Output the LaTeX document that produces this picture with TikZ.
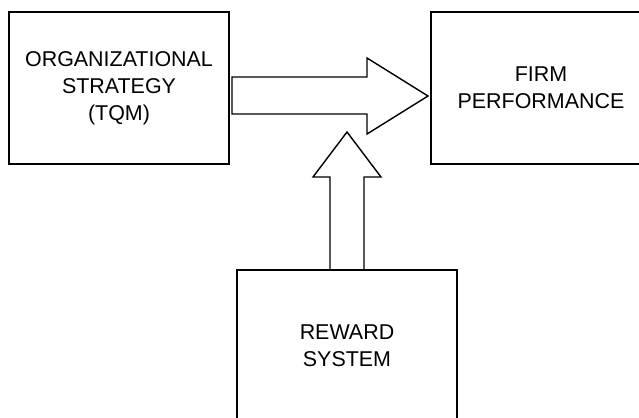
\documentclass[tikz,border=0pt]{standalone}
\usepackage{fontspec}
\setmainfont{Liberation Sans}
\begin{document}
\begin{tikzpicture}[x=0.02cm,y=-0.02cm,
   box/.style={draw,line width=1.1pt,minimum width=4.4cm,minimum height=3.04cm,
     align=center,font=\fontsize{12.2}{15.5}\selectfont},
   blockarrow/.style={draw,line width=0.8pt,line join=miter}]
   \useasboundingbox (0,0) rectangle (639,417);
   \clip (0,0) rectangle (639,417);
   \node[box] (strategy) at (119,88) {ORGANIZATIONAL\\STRATEGY\\(TQM)};
   \node[box] (performance) at (541,88) {FIRM\\PERFORMANCE};
   \node[box] (reward) at (347,346) {REWARD\\SYSTEM};
   % wide arrow: strategy -> performance
   \coordinate (htip) at (428,96);
   \draw[blockarrow] (232,77) -- (367,77) -- (367,58) -- (htip)
      -- (367,134) -- (367,114) -- (232,114) -- cycle;
   % upward arrow: reward -> wide arrow
   \coordinate (vtip) at (347,132);
   \draw[blockarrow] (reward.north -| 330,0) -- (330,177) -- (313,177) -- (vtip)
      -- (381,177) -- (364,177) -- (reward.north -| 364,0);
\end{tikzpicture}
\end{document}
